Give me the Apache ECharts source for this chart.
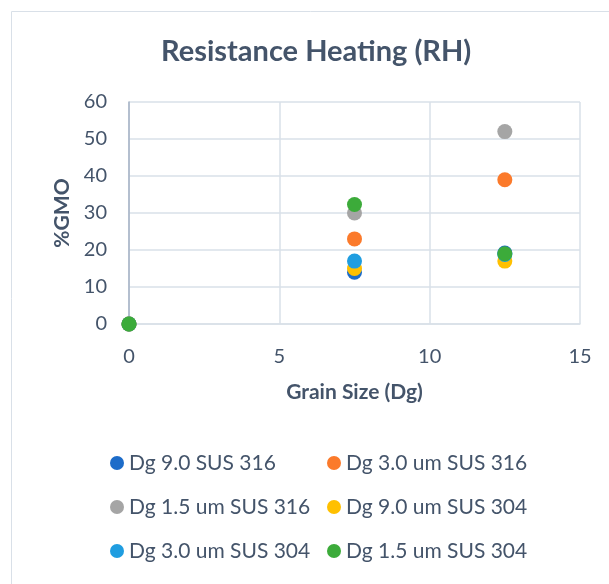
<!DOCTYPE html>
<html>
<head>
<meta charset="utf-8">
<script src="https://cdn.jsdelivr.net/npm/echarts@6/dist/echarts.min.js"></script>
<style>
  html, body { margin: 0; padding: 0; background: #fff; }
  #chart { width: 609px; height: 584px; }
</style>
</head>
<body>
<div id="chart"></div>
<script>
// series names + colours, in legend order
const seriesNames = [
  'Dg 9.0 SUS 316',
  'Dg 3.0 um SUS 316',
  'Dg 1.5 um SUS 316',
  'Dg 9.0 um SUS 304',
  'Dg 3.0 um SUS 304',
  'Dg 1.5 um SUS 304'
]
const seriesColors = ['#1d6cc9', '#fb7a2b', '#a5a5a5', '#ffc000', '#1f9de0', '#3cab3a']

// grain size (x) shared by every series
const grainSize = [0, 7.5, 12.5]

// %GMO (y) per series
const dg90_316 = [0, 14, 19.2]
const dg30_316 = [0, 23, 39]
const dg15_316 = [0, 30, 52]
const dg90_304 = [0, 15, 17]
const dg30_304 = [0, 17, 18.8]
const dg15_304 = [0, 32.3, 19]
const seriesValues = [dg90_316, dg30_316, dg15_316, dg90_304, dg30_304, dg15_304]

const xTicks = [0, 5, 10, 15]
const yTicks = [0, 10, 20, 30, 40, 50, 60]

const textColor = '#44546a'
const fontFamily = 'Lato, "Open Sans", sans-serif'

const chart = echarts.init(document.getElementById('chart'))

chart.setOption({
  animation: false,
  graphic: [{
    type: 'rect',
    shape: { x: 11.5, y: 11.5, width: 700, height: 700 },
    style: { fill: 'none', stroke: '#d9e0e8', lineWidth: 1 },
    silent: true
  }],
  title: {
    text: 'Resistance Heating (RH)',
    left: 161,
    top: 37,
    padding: 0,
    textStyle: { color: textColor, fontSize: 29, fontWeight: 'bold', fontFamily }
  },
  grid: { left: 129, right: 29, top: 102, bottom: 260 },
  xAxis: {
    type: 'value',
    min: xTicks[0],
    max: xTicks[xTicks.length - 1],
    interval: 5,
    name: 'Grain Size (Dg)',
    nameLocation: 'middle',
    nameGap: 58,
    nameTextStyle: { color: textColor, fontSize: 21, fontWeight: 'bold', fontFamily },
    axisLine: { show: true, lineStyle: { color: '#d9e0e8', width: 1.5 } },
    axisTick: { show: false },
    axisLabel: { color: textColor, fontSize: 20, fontFamily, margin: 23 },
    splitLine: { show: true, lineStyle: { color: '#d9e0e8', width: 1.5 } }
  },
  yAxis: {
    type: 'value',
    min: yTicks[0],
    max: yTicks[yTicks.length - 1],
    interval: 10,
    name: '%GMO',
    nameLocation: 'middle',
    nameGap: 56,
    nameRotate: 90,
    nameTextStyle: { color: textColor, fontSize: 21, fontWeight: 'bold', fontFamily },
    axisLine: { show: true, lineStyle: { color: '#a4b2c4', width: 1.5 } },
    axisTick: { show: false },
    axisLabel: { color: textColor, fontSize: 20, fontFamily, margin: 22 },
    splitLine: { show: true, lineStyle: { color: '#d9e0e8', width: 1.5 } }
  },
  legend: {
    left: 110,
    top: 441,
    width: 450,
    padding: 0,
    itemGap: 0,
    itemWidth: 14,
    itemHeight: 14,
    icon: 'circle',
    data: seriesNames,
    textStyle: { color: textColor, fontSize: 21, fontFamily, width: 198, height: 44, lineHeight: 44 }
  },
  series: seriesNames.map((name, i) => ({
    name,
    type: 'scatter',
    symbol: 'circle',
    symbolSize: 15,
    itemStyle: { color: seriesColors[i], opacity: 1 },
    data: grainSize.map((x, j) => [x, seriesValues[i][j]])
  }))
})
</script>
</body>
</html>
